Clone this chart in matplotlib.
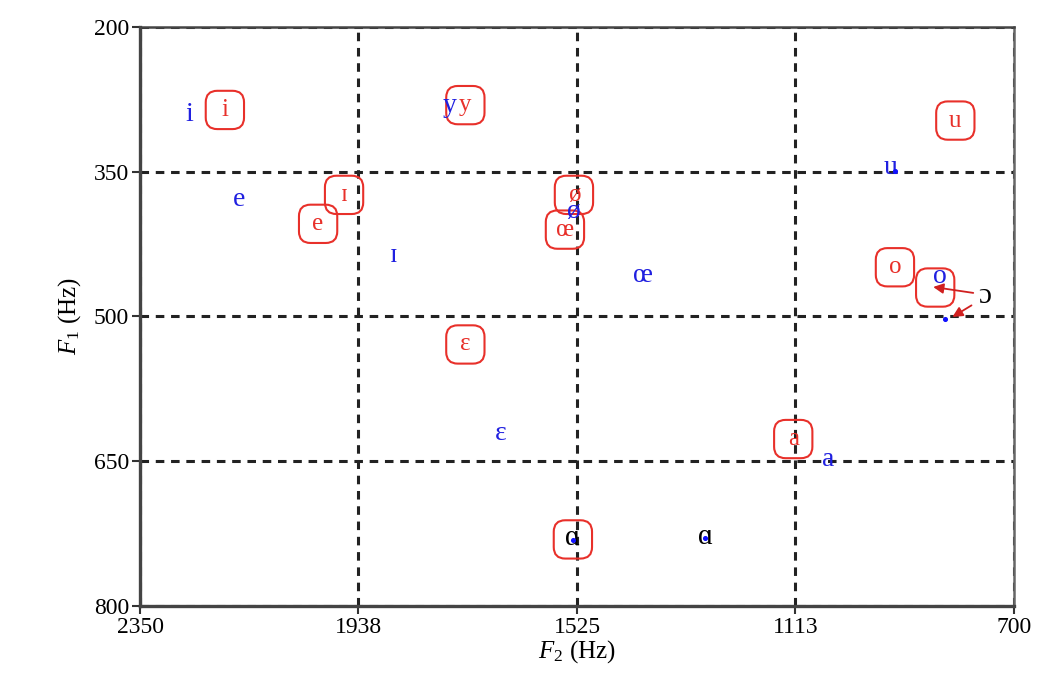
import matplotlib
matplotlib.use("Agg")
import matplotlib.pyplot as plt
from matplotlib.patches import FancyBboxPatch

plt.rcParams['font.family'] = ['Liberation Serif', 'DejaVu Serif']
plt.rcParams['mathtext.fontset'] = 'custom'
plt.rcParams['mathtext.rm'] = 'Liberation Serif'
plt.rcParams['mathtext.it'] = 'Liberation Serif:italic'

# voyelles de référence (bleu)
ref_labels = ['i', 'e', 'ɪ', 'y', 'ø', 'œ', 'ɛ', 'u', 'o', 'a']
ref_f2 = [2257, 2163, 1872, 1765, 1533, 1400, 1670, 934, 840, 1051]
ref_f1 = [291, 379, 437, 281, 391, 458, 621, 346, 459, 648]

# voyelles produites (rouge, encadrées)
prod_labels = ['i', 'y', 'ɪ', 'e', 'ø', 'œ', 'ɛ', 'a', 'o', 'u']
prod_f2 = [2190, 1736, 1965, 2014, 1531, 1548, 1736, 1117, 925, 811]
prod_f1 = [286, 281, 374, 404, 374, 410, 529, 627, 449, 297]

# cadres rouges sans texte visible (autour du o bleu et du ɑ noir)
box_f2 = [849, 1533]
box_f1 = [470, 731]

# voyelles sans cible (noir)
other_labels = ['ɑ', 'ɑ', 'ɔ']
other_f2 = [1533, 1283, 755]
other_f1 = [730, 728, 479]

# points bleus
dot_f2 = [1533, 1283, 830, 925]
dot_f1 = [732, 730, 503, 349]

xticks = [2350, 1938, 1525, 1113, 700]
yticks = [200, 350, 500, 650, 800]

fig = plt.figure(figsize=(10.38, 6.91), dpi=100)
ax = fig.add_axes([0.135, 0.123, 0.842, 0.838])

ax.set_xlim(2350, 700)
ax.set_ylim(800, 200)
ax.set_xticks(xticks)
ax.set_yticks(yticks)
ax.tick_params(labelsize=17, direction='out', length=6, width=1.5, color='#333333', pad=2)
ax.grid(True, color='#222222', linestyle=(0, (2.8, 2.2)), linewidth=2.2)
ax.set_axisbelow(True)

for side in ['left', 'bottom']:
    ax.spines[side].set_linewidth(2.4)
    ax.spines[side].set_color('#444444')
ax.spines['top'].set_linewidth(1.8)
ax.spines['top'].set_color('#444444')
ax.spines['right'].set_linewidth(1.8)
ax.spines['right'].set_color('#666666')

ax.set_xlabel('$F_2$ (Hz)', fontsize=18, labelpad=0)
ax.set_ylabel('$F_1$ (Hz)', fontsize=18, labelpad=8)

# marqueur carré arrondi pour les cadres
rbox = FancyBboxPatch((-0.5, -0.5), 1, 1, boxstyle='round,pad=0,rounding_size=0.3').get_path()

ax.scatter(prod_f2 + box_f2, prod_f1 + box_f1, marker=rbox, s=760,
           facecolors='none', edgecolors='#e8302a', linewidths=1.5, zorder=3)

for lab, x, y in zip(prod_labels, prod_f2, prod_f1):
    ax.text(x, y, lab, color='#e8302a', fontsize=18, ha='center', va='center', zorder=4)

for lab, x, y in zip(ref_labels, ref_f2, ref_f1):
    ax.text(x, y, lab, color='#2020e0', fontsize=20, ha='center', va='center', zorder=4)

for lab, x, y in zip(other_labels, other_f2, other_f1):
    ax.text(x, y, lab, color='black', fontsize=21, ha='center', va='center', zorder=4)

ax.scatter(dot_f2, dot_f1, s=7, color='#1010ff', zorder=5)

# flèches depuis le ɔ
ax.annotate('', xy=(858, 469), xytext=(772, 476),
            arrowprops=dict(arrowstyle='-|>', color='#d02020', lw=1.3, mutation_scale=15))
ax.annotate('', xy=(821, 502), xytext=(776, 487),
            arrowprops=dict(arrowstyle='-|>', color='#d02020', lw=1.3, mutation_scale=15))

fig.savefig('out.png', dpi=100)
